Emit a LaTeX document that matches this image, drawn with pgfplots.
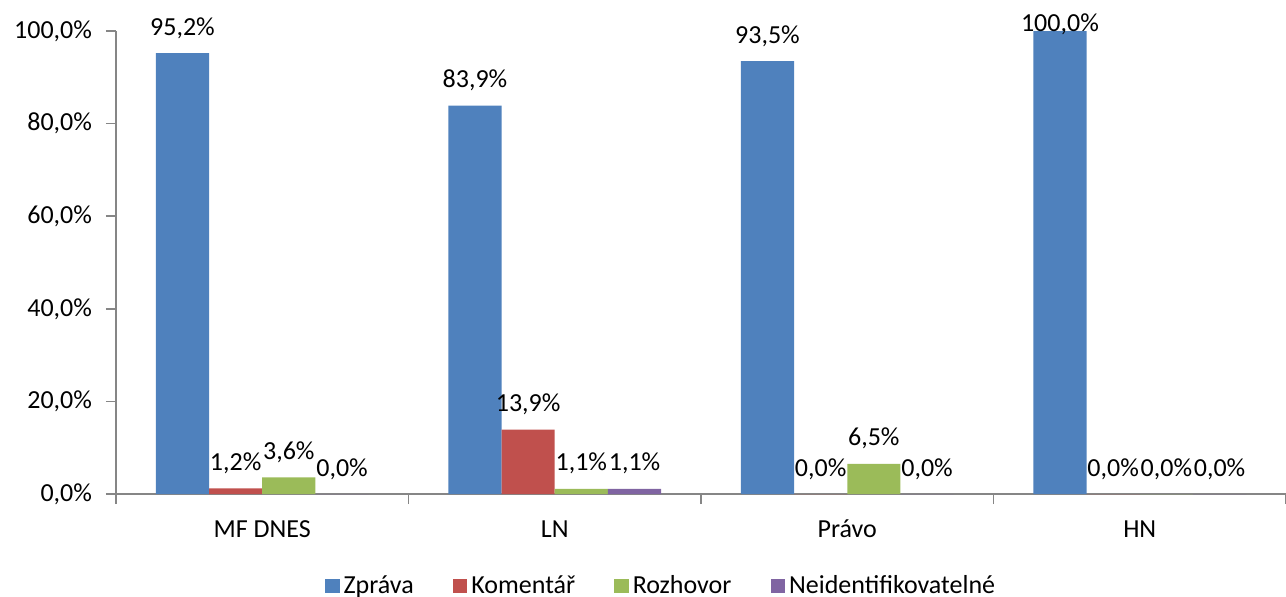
\documentclass[border=0pt]{standalone}
\usepackage{fontspec}
\setmainfont{Carlito}
\usepackage{pgfplots}
\pgfplotsset{compat=1.18}
\usepackage{pgfplotstable}

\definecolor{cA}{HTML}{4F81BD}
\definecolor{cB}{HTML}{C0504D}
\definecolor{cC}{HTML}{9BBB59}
\definecolor{cD}{HTML}{8064A2}
\definecolor{axgray}{HTML}{868686}

\pgfplotstableread{
x y lab sh
0 95.2 {95,2\%} 9
1 83.9 {83,9\%} 9
2 93.5 {93,5\%} 9
3 100.0 {100,0\%} 0
}\zprava
\pgfplotstableread{
x y lab sh
0 1.2 {1,2\%} 9
1 13.9 {13,9\%} 9
2 0.0 {0,0\%} 9
3 0.0 {0,0\%} 9
}\komentar
\pgfplotstableread{
x y lab sh
0 3.6 {3,6\%} 9
1 1.1 {1,1\%} 9
2 6.5 {6,5\%} 9
3 0.0 {0,0\%} 9
}\rozhovor
\pgfplotstableread{
x y lab sh
0 0.0 {0,0\%} 9
1 1.1 {1,1\%} 9
2 0.0 {0,0\%} 9
3 0.0 {0,0\%} 9
}\neident

\newcommand{\fs}{\fontsize{13pt}{15pt}\selectfont}

\begin{document}
\begin{tikzpicture}
\begin{axis}[
  scale only axis,
  width=585pt, height=231.5pt,
  ybar=0pt, bar width=26.6pt,
  xmin=-0.5, xmax=3.5, ymin=0, ymax=100,
  enlargelimits=false,
  axis x line*=bottom, axis y line*=left,
  axis line style={-, color=axgray, line width=0.8pt},
  x axis line style={-}, y axis line style={-},
  tick align=outside,
  tick style={color=axgray, line width=0.8pt},
  xtick={0,1,2,3},
  xticklabels={MF DNES, LN, Právo, HN},
  major x tick style={draw=none},
  minor xtick={-0.5,0.5,1.5,2.5,3.5},
  minor tick length=5pt,
  major tick length=5pt,
  ytick={0,20,40,60,80,100},
  yticklabels={{0,0\%},{20,0\%},{40,0\%},{60,0\%},{80,0\%},{100,0\%}},
  tick label style={font=\fs},
  yticklabel style={xshift=-3.5pt},
  xticklabel style={text height=9pt, yshift=-4pt},
  point meta=explicit symbolic,
  nodes near coords,
  visualization depends on={\thisrow{sh} \as \sh},
  every node near coord/.append style={font=\fs, anchor=base, yshift=\sh pt, inner sep=0pt, color=black},
  legend columns=4,
  legend style={at={(0.4667,0)}, anchor=center, yshift=-46pt, draw=none, font=\fs,
    /tikz/every even column/.append style={column sep=17.5pt},
    cells={anchor=west, inner xsep=2.5pt}},
  legend image code/.code={\fill[#1] (0pt,-3.6pt) rectangle (7.3pt,3.6pt);},
]
\addplot[fill=cA, draw=none] table[x=x, y=y, meta=lab] {\zprava};
\addplot[fill=cB, draw=none] table[x=x, y=y, meta=lab] {\komentar};
\addplot[fill=cC, draw=none] table[x=x, y=y, meta=lab] {\rozhovor};
\addplot[fill=cD, draw=none] table[x=x, y=y, meta=lab] {\neident};
\legend{Zpráva, Komentář, Rozhovor, Neidentifikovatelné}
\end{axis}
\pgfresetboundingbox
\path[use as bounding box] (-58pt,-51pt) rectangle (585pt,247pt);
\end{tikzpicture}
\end{document}
